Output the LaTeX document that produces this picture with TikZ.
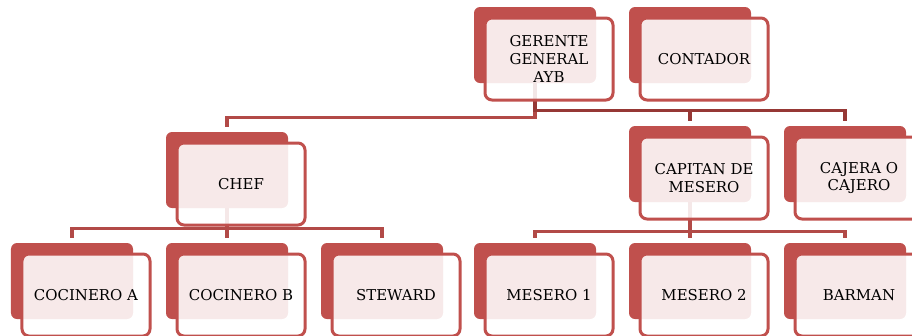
\documentclass[tikz,border=0pt]{standalone}
\usepackage{fontspec}
\setmainfont{DejaVu Serif}
\usepackage{tikz}
\definecolor{rojo}{RGB}{192,80,77}
\definecolor{rojolinea}{RGB}{178,74,71}
\definecolor{rojoosc}{RGB}{150,56,53}
\tikzstyle{fondo} = [fill=rojo, rounded corners=6bp, minimum width=122bp, minimum height=76bp, inner sep=0pt]
\tikzstyle{tarjeta} = [draw=rojo, line width=3bp, fill=white, fill opacity=0.88, text opacity=1, rounded corners=7bp, minimum width=128bp, minimum height=82bp, inner sep=0pt, align=center, font=\fontsize{15}{18}\selectfont]
\tikzstyle{enlace} = [draw=rojolinea, line width=3.2bp, shorten >=5bp]

\begin{document}
\begin{tikzpicture}[x=1bp, y=-1bp]
	\clip (0,0) rectangle (912,335);
	% fondos
	\node[fondo] (gerenteF) at (535,45) {};
	\node[fondo] (contadorF) at (690,45) {};
	\node[fondo] (chefF) at (227,170) {};
	\node[fondo] (capitanF) at (690,164) {};
	\node[fondo] (cajeraF) at (845,164) {};
	\node[fondo] (cocinaAF) at (72,281) {};
	\node[fondo] (cocinaBF) at (227,281) {};
	\node[fondo] (stewardF) at (382,281) {};
	\node[fondo] (mesero1F) at (535,281) {};
	\node[fondo] (mesero2F) at (690,281) {};
	\node[fondo] (barmanF) at (845,281) {};
	% enlaces
	\draw[enlace] (gerenteF.south) -- ++(0,34) -| (chefF.north);
	\draw[enlace, draw=rojoosc] (gerenteF.south) -- ++(0,27) -| (capitanF.north);
	\draw[enlace, draw=rojoosc] (gerenteF.south) -- ++(0,27) -| (cajeraF.north);
	\draw[enlace] (chefF.south) -- ++(0,20) -| (cocinaAF.north);
	\draw[enlace] (chefF.south) -- ++(0,20) -| (cocinaBF.north);
	\draw[enlace] (chefF.south) -- ++(0,20) -| (stewardF.north);
	\draw[enlace] (capitanF.south) -- ++(0,29) -| (mesero1F.north);
	\draw[enlace] (capitanF.south) -- ++(0,29) -| (mesero2F.north);
	\draw[enlace] (capitanF.south) -- ++(0,29) -| (barmanF.north);
	% tarjetas
	\node[tarjeta] (gerente) at ([shift={(14,14)}]gerenteF.center) {GERENTE\\GENERAL\\AYB};
	\node[tarjeta] (contador) at ([shift={(14,14)}]contadorF.center) {CONTADOR};
	\node[tarjeta] (chef) at ([shift={(14,14)}]chefF.center) {CHEF};
	\node[tarjeta] (capitan) at ([shift={(14,14)}]capitanF.center) {CAPITAN DE\\MESERO};
	\node[tarjeta] (cajera) at ([shift={(14,14)}]cajeraF.center) {CAJERA O\\CAJERO};
	\node[tarjeta] (cocinaA) at ([shift={(14,14)}]cocinaAF.center) {COCINERO A};
	\node[tarjeta] (cocinaB) at ([shift={(14,14)}]cocinaBF.center) {COCINERO B};
	\node[tarjeta] (steward) at ([shift={(14,14)}]stewardF.center) {STEWARD};
	\node[tarjeta] (mesero1) at ([shift={(14,14)}]mesero1F.center) {MESERO 1};
	\node[tarjeta] (mesero2) at ([shift={(14,14)}]mesero2F.center) {MESERO 2};
	\node[tarjeta] (barman) at ([shift={(14,14)}]barmanF.center) {BARMAN};
\end{tikzpicture}
\end{document}
